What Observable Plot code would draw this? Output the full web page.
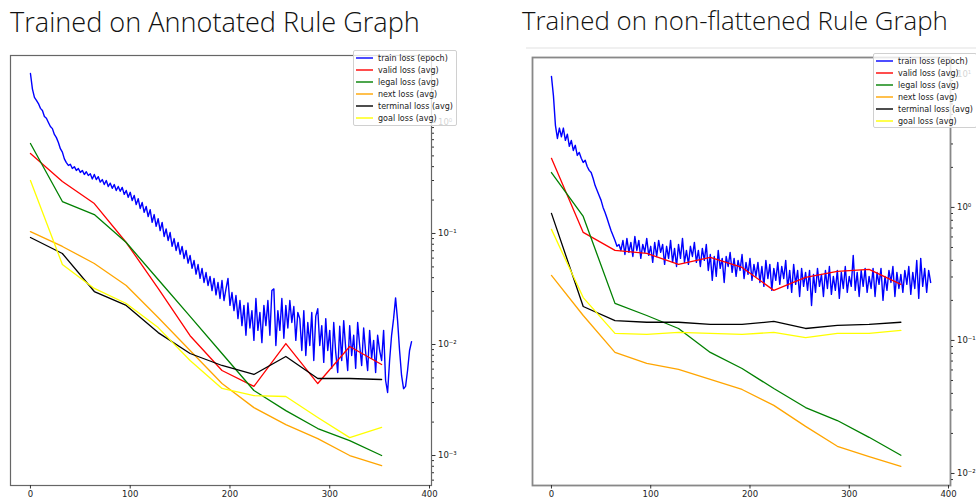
<!DOCTYPE html>
<html><head><meta charset="utf-8">
<script src="https://cdn.jsdelivr.net/npm/d3@7"></script>
<script src="https://cdn.jsdelivr.net/npm/@observablehq/plot@0.6"></script>
<style>
body{margin:0;width:976px;height:502px;position:relative;overflow:hidden;background:#fff;font-family:"DejaVu Sans",sans-serif}
.title{position:absolute;font-family:"Open Sans",sans-serif;font-weight:300;white-space:nowrap;color:#111;line-height:1;font-size:28px}
.panel{position:absolute;top:45px}
.legend{position:absolute;background:rgba(255,255,255,0.8);border:1px solid #d0d0d0;border-radius:2px;font-size:8px;color:#222;box-sizing:border-box;padding-top:1px}
.legend .row{height:12px;display:flex;align-items:center;white-space:nowrap}
.legend svg{margin-left:2px;margin-right:5px;display:block}
.sep{position:absolute;left:526px;top:47px;width:450px;height:2px;background:#f0f0f0}
</style>
</head><body>
<div class="title" id="t1" style="left:10px;top:8px">Trained on Annotated Rule Graph</div>
<div class="title" id="t2" style="left:522px;top:8px">Trained on non-flattened Rule Graph</div>
<div class="sep"></div>
<div class="panel" id="p1" style="left:0px"></div>
<div class="panel" id="p2" style="left:488px"></div>
<div class="legend" id="l1" style="left:353px;top:50px;width:104px;height:76px"></div>
<div class="legend" id="l2" style="left:873px;top:53px;width:104px;height:75px"></div>
<script>
// ---- data ----
const seriesNames = ["train loss (epoch)", "valid loss (avg)", "legal loss (avg)", "next loss (avg)", "terminal loss (avg)", "goal loss (avg)"];
const seriesColors = ["blue", "red", "green", "orange", "black", "yellow"];
const avgEpochs = [0, 32, 64, 96, 128, 160, 192, 224, 256, 288, 320, 352];
const trainEpochStep = 2;
const xTickValues = [0, 100, 200, 300, 400];

// Left: Trained on Annotated Rule Graph
const leftTrain = [
2.76, 2.0, 1.68, 1.58, 1.48, 1.34, 1.28, 1.13, 1.09, 1.0,
0.92, 0.88, 0.78, 0.73, 0.66, 0.58, 0.54, 0.47, 0.435, 0.41,
0.42, 0.385, 0.40, 0.37, 0.385, 0.355, 0.37, 0.34, 0.36, 0.333,
0.345, 0.31, 0.34, 0.306, 0.325, 0.29, 0.306, 0.276, 0.30, 0.265,
0.284, 0.255, 0.276, 0.244, 0.265, 0.24, 0.26, 0.225, 0.244, 0.212,
0.235, 0.198, 0.22, 0.182, 0.206, 0.168, 0.19, 0.155, 0.175, 0.142,
0.164, 0.126, 0.148, 0.116, 0.136, 0.106, 0.126, 0.094, 0.11, 0.0865,
0.102, 0.0765, 0.09, 0.0703, 0.083, 0.065, 0.0765, 0.0595, 0.0703, 0.054,
0.0634, 0.0485, 0.0571, 0.043, 0.0525, 0.0394, 0.0485, 0.0362, 0.0445, 0.034,
0.041, 0.0306, 0.0394, 0.028, 0.0362, 0.026, 0.0377, 0.0249, 0.0317, 0.0394,
0.0225, 0.0294, 0.0202, 0.0276, 0.0171, 0.0249, 0.0148, 0.0225, 0.0121, 0.0237,
0.0141, 0.0202, 0.0109, 0.026, 0.0134, 0.0194, 0.0104, 0.0225, 0.0148, 0.0249,
0.0121, 0.0306, 0.0317, 0.0098, 0.0202, 0.0134, 0.026, 0.0114, 0.0225, 0.0141,
0.0249, 0.0158, 0.022, 0.0109, 0.0194, 0.0171, 0.00883, 0.0202, 0.00796, 0.0158,
0.0098, 0.0194, 0.00718, 0.018, 0.021, 0.0098, 0.0148, 0.0069, 0.0171, 0.00883,
0.0134, 0.0061, 0.0158, 0.0085, 0.0056, 0.0146, 0.00718, 0.0164, 0.0092, 0.00583,
0.0148, 0.00796, 0.0121, 0.0061, 0.0158, 0.0098, 0.00647, 0.0141, 0.0085, 0.00583,
0.0134, 0.0075, 0.0109, 0.0056, 0.0121, 0.00883, 0.00718, 0.0134, 0.00474, 0.0037,
0.00718, 0.0121, 0.0171, 0.0263, 0.0164, 0.00883, 0.00526, 0.004, 0.0042, 0.00583,
0.00883, 0.0106];
const leftValid = [0.526,0.294,0.186,0.0829,0.0320,0.0120,0.00583,0.00419,0.0102,0.00445,0.00960,0.00660];
const leftLegal = [0.647,0.194,0.148,0.0829,0.0385,0.0179,0.0083,0.00385,0.00254,0.00175,0.00136,0.00100];
const leftNext = [0.104,0.0764,0.0537,0.0340,0.0175,0.00883,0.00445,0.00270,0.00190,0.00142,0.00100,0.00081];
const leftTerminal = [0.0920,0.0660,0.0300,0.0225,0.0128,0.0083,0.00647,0.00537,0.0078,0.00494,0.00494,0.00484];
const leftGoal = [0.300,0.0526,0.0320,0.0234,0.0142,0.00718,0.00402,0.00347,0.00340,0.00220,0.00145,0.00179];
const leftYTicks = [1e-3, 1e-2, 1e-1, 1e0];
const leftYTickLabels = ["10⁻³", "10⁻²", "10⁻¹", "10⁰"];

// Right: Trained on non-flattened Rule Graph
const rightTrain = [
9.66, 6.9, 4.14, 3.3, 3.95, 3.4, 3.95, 3.19, 3.55, 2.88,
3.19, 2.68, 2.93, 2.46, 2.59, 2.34, 2.18, 2.26, 2.03, 1.90,
1.83, 1.65, 1.46, 1.34, 1.23, 1.13, 1.0, 0.917, 0.83, 0.745,
0.671, 0.616, 0.565, 0.51, 0.527, 0.475, 0.565, 0.443, 0.585, 0.459,
0.546, 0.428, 0.605, 0.475, 0.565, 0.414, 0.527, 0.459, 0.585, 0.436,
0.51, 0.386, 0.546, 0.428, 0.565, 0.459, 0.527, 0.373, 0.51, 0.414,
0.565, 0.386, 0.492, 0.36, 0.527, 0.414, 0.585, 0.386, 0.475, 0.373,
0.51, 0.428, 0.546, 0.386, 0.475, 0.36, 0.492, 0.400, 0.527, 0.336,
0.443, 0.283, 0.428, 0.303, 0.475, 0.348, 0.414, 0.273, 0.428, 0.36,
0.459, 0.325, 0.414, 0.303, 0.400, 0.336, 0.443, 0.292, 0.386, 0.314,
0.414, 0.283, 0.373, 0.303, 0.386, 0.273, 0.36, 0.255, 0.400, 0.292,
0.373, 0.238, 0.348, 0.283, 0.386, 0.264, 0.36, 0.292, 0.400, 0.246,
0.336, 0.230, 0.373, 0.264, 0.336, 0.214, 0.348, 0.255, 0.325, 0.238,
0.336, 0.183, 0.314, 0.230, 0.348, 0.255, 0.314, 0.214, 0.336, 0.246,
0.36, 0.222, 0.303, 0.238, 0.336, 0.207, 0.325, 0.246, 0.36, 0.230,
0.303, 0.255, 0.436, 0.238, 0.325, 0.214, 0.336, 0.255, 0.348, 0.230,
0.303, 0.246, 0.348, 0.214, 0.325, 0.264, 0.348, 0.200, 0.303, 0.238,
0.336, 0.273, 0.36, 0.214, 0.325, 0.246, 0.314, 0.230, 0.336, 0.264,
0.36, 0.222, 0.325, 0.246, 0.400, 0.207, 0.414, 0.255, 0.348, 0.230,
0.336, 0.273];
const rightValid = [2.34,0.649,0.475,0.451,0.373,0.421,0.354,0.238,0.298,0.330,0.342,0.264];
const rightLegal = [1.83,0.855,0.190,0.154,0.123,0.0813,0.0615,0.0435,0.0313,0.0250,0.0187,0.0137];
const rightNext = [0.308,0.154,0.0813,0.0672,0.0605,0.0509,0.0428,0.0325,0.0226,0.0160,0.0134,0.0113];
const rightTerminal = [0.902,0.180,0.141,0.137,0.137,0.132,0.132,0.139,0.123,0.130,0.132,0.137];
const rightGoal = [0.684,0.210,0.113,0.111,0.115,0.113,0.111,0.115,0.105,0.113,0.113,0.119];
const rightYTicks = [1e-2, 1e-1, 1e0, 1e1];
const rightYTickLabels = ["10⁻²", "10⁻¹", "10⁰", "10¹"];

// ---- build ----
function minorTicks(domain) {
  const out = [];
  for (let e = -5; e <= 2; e++) for (let m = 2; m <= 9; m++) {
    const v = m * Math.pow(10, e);
    if (v >= domain[0] && v <= domain[1]) out.push(v);
  }
  return out;
}
function panel(opts) {
  const train = opts.train.map((v, i) => ({epoch: i * trainEpochStep, loss: v}));
  const avgs = [opts.valid, opts.legal, opts.next, opts.terminal, opts.goal];
  const avgMarks = avgs.map((arr, k) => Plot.line(arr.map((v, i) => ({epoch: avgEpochs[i], loss: v})),
    {x: "epoch", y: "loss", stroke: seriesColors[k + 1], strokeWidth: 1.3}));
  const labelOf = new Map(opts.yTicks.map((t, i) => [t, opts.yLabels[i]]));
  return Plot.plot({
    width: 488, height: 457,
    marginLeft: opts.ml, marginRight: opts.mr, marginTop: opts.mt, marginBottom: 17,
    x: {domain: opts.xDomain, label: null},
    y: {type: "log", domain: opts.yDomain, label: null},
    style: {fontFamily: "DejaVu Sans", fontSize: "8.5px", color: "#222", background: "transparent", overflow: "visible"},
    marks: [
      Plot.line(train, {x: "epoch", y: "loss", stroke: seriesColors[0], strokeWidth: 1.4}),
      ...avgMarks,
      Plot.frame({stroke: opts.frameColor, strokeWidth: opts.frameWidth}),
      Plot.axisX({ticks: xTickValues, tickSize: 3.5, tickPadding: 2, tickFormat: d => String(d), label: null, stroke: "#333"}),
      Plot.axisY({anchor: "right", ticks: opts.yTicks, tickSize: 3.5, tickPadding: 3, tickFormat: d => labelOf.get(d), label: null, stroke: "#333"}),
      Plot.axisY({anchor: "right", ticks: minorTicks(opts.yDomain), tickSize: 2, tickFormat: () => "", label: null, stroke: "#333"})
    ]
  });
}
document.getElementById("p1").append(panel({
  train: leftTrain, valid: leftValid, legal: leftLegal, next: leftNext, terminal: leftTerminal, goal: leftGoal,
  ml: 10, mr: 57, mt: 10, xDomain: [-20, 402], yDomain: [0.000537, 4.01],
  yTicks: leftYTicks, yLabels: leftYTickLabels, frameColor: "#666", frameWidth: 1.2
}));
document.getElementById("p2").append(panel({
  train: rightTrain, valid: rightValid, legal: rightLegal, next: rightNext, terminal: rightTerminal, goal: rightGoal,
  ml: 44, mr: 26, mt: 12, xDomain: [-19.1, 402], yDomain: [0.00812, 13.4],
  yTicks: rightYTicks, yLabels: rightYTickLabels, frameColor: "#888", frameWidth: 1.8
}));
const NS = "http://www.w3.org/2000/svg";
for (const id of ["l1", "l2"]) {
  const el = document.getElementById(id);
  seriesNames.forEach((n, i) => {
    const r = document.createElement("div"); r.className = "row";
    const s = document.createElementNS(NS, "svg");
    s.setAttribute("width", "17"); s.setAttribute("height", "6");
    const ln = document.createElementNS(NS, "line");
    ln.setAttribute("x1", "0"); ln.setAttribute("x2", "17"); ln.setAttribute("y1", "3"); ln.setAttribute("y2", "3");
    ln.setAttribute("stroke", seriesColors[i]); ln.setAttribute("stroke-width", "1.4");
    s.append(ln);
    const t = document.createElement("span"); t.textContent = n;
    r.append(s, t); el.append(r);
  });
}
function fit(id, w) {
  const el = document.getElementById(id);
  const cur = el.getBoundingClientRect().width;
  el.style.fontSize = (28 * w / cur) + "px";
}
fit("t1", 410); fit("t2", 426);
</script>
</body></html>
